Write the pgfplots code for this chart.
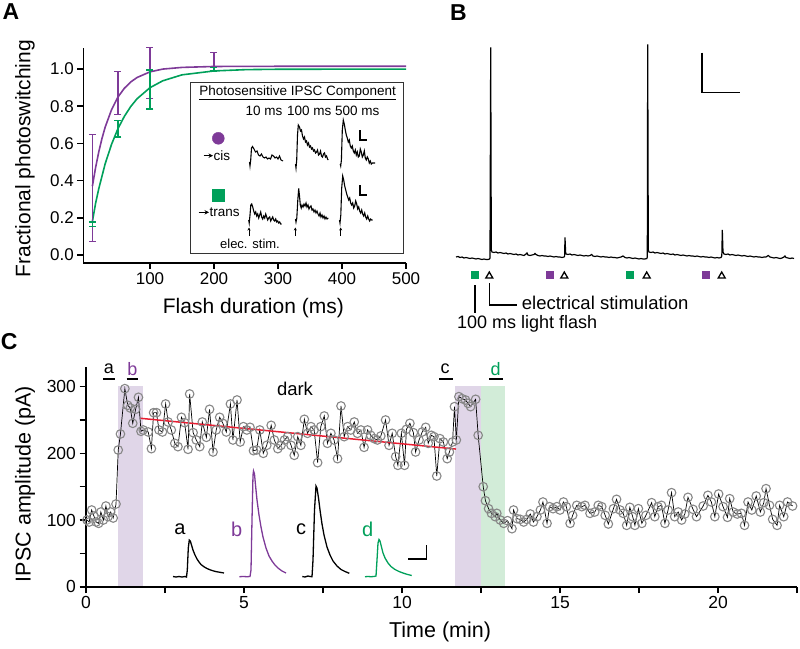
\documentclass[border=0pt]{standalone}
\usepackage{fontspec}
\setmainfont{Liberation Sans}
\usepackage{pgfplots}
\pgfplotsset{compat=1.18}
\usetikzlibrary{arrows.meta}
\definecolor{cP}{RGB}{126,58,152}
\definecolor{cG}{RGB}{0,160,90}
\definecolor{shP}{RGB}{224,214,232}
\definecolor{shG}{RGB}{210,236,216}
\definecolor{cR}{RGB}{232,30,50}
\definecolor{mk}{RGB}{135,135,135}
\begin{document}
\begin{tikzpicture}[x=1pt,y=1pt]
\path[use as bounding box] (0,0) rectangle (800,648);
% ---------------- Panel A ----------------
\begin{axis}[
 at={(83.3pt,385pt)}, anchor=south west, scale only axis, width=322.7pt, height=215.3pt,
 xmin=-4.2, xmax=500, ymin=-0.043, ymax=1.115,
 axis x line*=bottom, axis y line*=left, axis line style={-, line width=1.6pt},
 tick align=outside, major tick length=6pt, tick style={line width=1.6pt, black},
 xtick={100,200,300,400,500}, ytick={0,0.2,0.4,0.6,0.8,1.0},
 yticklabel style={/pgf/number format/fixed, /pgf/number format/fixed zerofill, /pgf/number format/precision=1},
 /pgf/number format/assume math mode=true,
 tick label style={font=\fontsize{17}{20}\selectfont},
 xlabel={Flash duration (ms)}, ylabel={Fractional photoswitching},
 label style={font=\fontsize{21}{25}\selectfont},
 xlabel style={at={(rel axis cs:0.527,-0.209)}, anchor=center},
 ylabel style={at={(rel axis cs:-0.181,0.485)}, anchor=center},
 clip=false,
]
\addplot[cP, line width=1.6pt] coordinates {(10,0.37) (15,0.470) (20,0.555) (25,0.627) (30,0.688) (40,0.782) (50,0.850) (60,0.897) (70,0.931) (80,0.955) (100,0.985) (120,1.000) (150,1.009) (200,1.014) (300,1.015) (500,1.015)};
\addplot[cG, line width=1.6pt] coordinates {(10,0.18) (15,0.278) (20,0.357) (30,0.491) (40,0.596) (50,0.680) (60,0.746) (70,0.799) (80,0.841) (100,0.900) (120,0.937) (150,0.969) (200,0.990) (250,0.997) (300,0.999) (500,1.0)};
\addplot[cP, draw=none, mark=none, error bars/.cd, y dir=both, y explicit, error bar style={draw=cP, line width=1.3pt}, error mark options={draw=cP, rotate=90, line width=1.3pt, mark size=3.5pt}] coordinates {(10,0.36) +- (0,0.287) (50,0.87) +- (0,0.116) (100,0.98) +- (0,0.137) (200,1.04) +- (0,0.048)};
\addplot[cG, draw=none, mark=none, error bars/.cd, y dir=both, y explicit, error bar style={draw=cG, line width=1.3pt}, error mark options={draw=cG, rotate=90, line width=1.3pt, mark size=3.5pt}] coordinates {(10,0.165) +- (0,0.012) (50,0.68) +- (0,0.045) (100,0.89) +- (0,0.105) (200,1.0) +- (0,0.01)};
\end{axis}
% ---------------- Panel C ----------------
\begin{axis}[
 at={(86pt,61.3pt)}, anchor=south west, scale only axis, width=711pt, height=219.4pt,
 xmin=0, xmax=22.5, ymin=0, ymax=329,
 axis x line*=bottom, axis y line*=left, axis line style={-, line width=1.6pt},
 tick align=outside, major tick length=6.5pt, minor tick length=6.5pt, tick style={line width=1.6pt, black},
 xtick={0,5,10,15,20}, minor xtick={2.5,7.5,12.5,17.5,22.5},
 ytick={0,100,200,300}, minor ytick={50,150,250},
 /pgf/number format/assume math mode=true,
 tick label style={font=\fontsize{17.5}{20}\selectfont},
 xlabel={Time (min)}, ylabel={IPSC amplitude (pA)},
 label style={font=\fontsize{21.5}{25}\selectfont},
 xlabel style={at={(rel axis cs:0.498,-0.206)}, anchor=center},
 ylabel style={at={(rel axis cs:-0.0858,0.468)}, anchor=center},
 clip=false, axis on top,
]
\addplot[draw=none, fill=shP] coordinates {(1.02,301) (1.79,301)} \closedcycle;
\addplot[draw=none, fill=shP] coordinates {(11.67,301) (12.51,301)} \closedcycle;
\addplot[draw=none, fill=shG] coordinates {(12.51,301) (13.25,301)} \closedcycle;
\addplot[black, line width=0.7pt, mark=o, mark size=4.3pt, mark options={draw=mk, line width=1.1pt}] coordinates {
(0.03,100) (0.1,97) (0.18,115) (0.25,106) (0.32,97) (0.4,95) (0.47,112) (0.55,100) (0.63,121) (0.7,105) (0.78,112) (0.86,103) (0.95,124)
(1.02,205) (1.09,229) (1.23,297) (1.32,272) (1.4,268) (1.48,245) (1.57,266) (1.66,284) (1.74,233)
(1.81,235) (1.97,232) (2.07,207) (2.14,261) (2.23,261) (2.31,235) (2.42,232) (2.52,274) (2.6,247) (2.7,235) (2.81,215) (2.91,210) (3.02,254) (3.12,246) (3.23,206) (3.28,289) (3.39,231) (3.49,220) (3.6,210) (3.68,247) (3.81,224) (3.91,266) (4.02,202) (4.12,235) (4.23,254) (4.33,245) (4.44,232) (4.57,274) (4.65,220) (4.78,280) (4.88,217) (4.98,240) (5.09,235) (5.19,239) (5.3,204) (5.4,205) (5.5,235) (5.61,200) (5.72,212) (5.86,242) (5.96,220) (6.07,207) (6.17,212) (6.28,220) (6.38,225) (6.49,212) (6.59,197) (6.7,225) (6.8,212) (6.91,251) (7.01,230) (7.12,240) (7.22,235) (7.33,186) (7.43,240) (7.54,256) (7.64,215) (7.75,230) (7.85,220) (7.96,192) (8.07,271) (8.17,225) (8.28,240) (8.38,235) (8.49,247) (8.59,230) (8.7,235) (8.8,209) (8.91,235) (9.01,227) (9.12,222) (9.22,220) (9.33,226) (9.48,250) (9.59,212) (9.69,230) (9.8,195) (9.87,182) (9.98,230) (10.08,182) (10.14,236) (10.25,245) (10.36,231) (10.43,202) (10.54,220) (10.64,232) (10.75,239) (10.83,215) (10.93,227) (11.01,225) (11.1,166) (11.2,222) (11.31,217) (11.43,192) (11.5,202) (11.6,217)
(11.66,270) (11.72,220) (11.8,285) (11.9,282) (12.01,280) (12.09,275) (12.17,270) (12.33,281) (12.41,227) (12.57,150) (12.64,129) (12.74,117) (12.83,110) (12.95,105) (13.0,110) (13.11,100) (13.22,95) (13.34,99) (13.48,87) (13.53,115) (13.64,102) (13.74,101) (13.85,97) (13.95,101) (14.06,109) (14.16,97) (14.27,105) (14.38,115) (14.46,127) (14.59,95) (14.67,120) (14.78,117) (14.9,120) (15.0,115) (15.11,127) (15.2,120) (15.32,95) (15.4,107) (15.53,122) (15.69,120) (15.79,122) (15.95,110) (16.1,112) (16.21,122) (16.32,120) (16.43,107) (16.53,94) (16.69,117) (16.79,131) (16.9,115) (17.0,110) (17.11,92) (17.21,119) (17.3,105) (17.37,92) (17.48,117) (17.59,95) (17.72,107) (17.9,126) (18.0,105) (18.1,120) (18.21,122) (18.32,95) (18.42,115) (18.53,141) (18.63,105) (18.74,112) (18.85,100) (18.95,109) (19.05,134) (19.21,116) (19.32,105) (19.53,121) (19.68,137) (19.79,127) (19.9,105) (20.02,139) (20.16,120) (20.3,104) (20.37,132) (20.48,112) (20.61,109) (20.74,110) (20.84,92) (20.95,127) (21.07,115) (21.21,136) (21.34,112) (21.45,126) (21.52,147) (21.63,122) (21.73,101) (21.87,92) (21.95,122) (22.08,105) (22.2,127) (22.36,121)};
\addplot[cR, line width=1.5pt] coordinates {(1.73,252.5) (11.71,206.4)};
\end{axis}
% ---------------- Overlay in pixel coordinates ----------------
\begin{axis}[
 at={(0pt,0pt)}, anchor=south west, scale only axis, width=800pt, height=648pt,
 xmin=0, xmax=800, ymin=0, ymax=648, y dir=reverse, hide axis, clip=false,
]
% panel letters
\node[font=\fontsize{23}{26}\selectfont\bfseries] at (axis cs:11,12) {A};
\node[font=\fontsize{23}{26}\selectfont\bfseries] at (axis cs:458.3,12.5) {B};
\node[font=\fontsize{23}{26}\selectfont\bfseries] at (axis cs:9.2,341.7) {C};
% inset box of A
\draw[line width=1.5pt, draw=black!80, fill=white] (axis cs:190.7,82.7) rectangle (axis cs:403.3,253.3);
\node[font=\fontsize{13.5}{16}\selectfont] at (axis cs:297.7,92.7) {\underline{Photosensitive IPSC Component}};
\node[font=\fontsize{13.5}{16}\selectfont] at (axis cs:264,110.7) {10 ms};
\node[font=\fontsize{13.5}{16}\selectfont] at (axis cs:309.3,110.7) {100 ms};
\node[font=\fontsize{13.5}{16}\selectfont] at (axis cs:357.3,110.7) {500 ms};
\addplot[only marks, mark=*, mark size=6pt, cP] coordinates {(218.3,138.3)};
\addplot[only marks, mark=square*, mark size=5.8pt, cG] coordinates {(218.3,195)};
\draw[line width=1.3pt, -{Stealth[length=4.5pt,width=4.5pt]}] (axis cs:203.5,155.7) -- (axis cs:213,155.7);
\node[font=\fontsize{13.5}{16}\selectfont, anchor=west, inner sep=0pt] at (axis cs:213.5,155.2) {cis};
\draw[line width=1.3pt, -{Stealth[length=4.5pt,width=4.5pt]}] (axis cs:198.5,212.3) -- (axis cs:209,212.3);
\node[font=\fontsize{13.5}{16}\selectfont, anchor=west, inner sep=0pt] at (axis cs:209.5,211.8) {trans};
\node[font=\fontsize{13}{16}\selectfont] at (axis cs:250,244) {elec. stim.};
\draw[line width=0.9pt, -{Stealth[length=3pt,width=3pt]}] (axis cs:249,236) -- (axis cs:249,227.5);
\draw[line width=0.9pt, -{Stealth[length=3pt,width=3pt]}] (axis cs:295.3,236) -- (axis cs:295.3,227.5);
\draw[line width=0.9pt, -{Stealth[length=3pt,width=3pt]}] (axis cs:340.7,236) -- (axis cs:340.7,227.5);
% scale bars in inset
\draw[line width=1.1pt] (axis cs:360,130) -- (axis cs:360,140) -- (axis cs:366.7,140);
\draw[line width=1.1pt] (axis cs:360,185) -- (axis cs:360,195) -- (axis cs:366.7,195);
% inset traces (cis)
\addplot[black, line width=1.1pt] coordinates {(249.5,162) (250,166) (250.7,160) (251.5,148) (252.5,146.5) (254,149) (255.5,152) (257,151) (258.5,155) (260,156) (261.5,154) (263,157) (264.5,158) (266,157) (267.5,159) (269,158) (270.5,159) (272,155) (273.5,156) (275,158) (276.5,157) (278,159) (279.5,156) (281,160) (283,161)};
\addplot[black, line width=1.1pt] coordinates {(295.5,164) (296,168) (296.7,160) (297.5,135) (298.3,125) (299.5,127) (300.5,131) (301.5,130) (302.5,136) (303.5,139) (304.5,137) (305.5,142) (306.5,141) (307.5,145) (308.5,143) (309.5,147) (310.5,146) (311.5,149) (312.5,148) (313.5,151) (314.5,150) (315.5,153) (316.5,152) (317.5,150) (318.5,155) (319.5,154) (320.5,151) (321.5,156) (322.5,157) (323.5,154) (324.5,153) (325.5,157) (326.5,156) (327.5,159) (328.3,160)};
\addplot[black, line width=1.1pt] coordinates {(340.2,164) (340.7,166) (341.4,160) (342.3,130) (343.3,120) (344.3,124) (345.3,130) (346.3,135) (347.3,138) (348.3,142) (349.3,140) (350.3,146) (351.3,148) (352.3,146) (353.3,151) (354.3,153) (355.3,150) (356.3,155) (357.3,152) (358.3,157) (359.3,156) (360.3,149) (361.3,152) (362.3,157) (363.3,155) (364.3,151) (365.3,158) (366.3,160) (367.3,157) (368.3,159) (369.3,163) (370.3,161) (371.3,164) (372.3,163) (373.5,163) (375,163)};
% inset traces (trans)
\addplot[black, line width=1.1pt] coordinates {(248.7,220) (249.2,223) (250,215) (250.8,205) (251.7,204) (252.7,207) (253.7,211) (254.7,214) (255.7,212) (256.7,216) (257.7,214) (258.7,218) (259.7,215) (260.7,212) (261.7,217) (262.7,219) (263.7,216) (264.7,218) (265.7,214) (266.7,217) (267.7,220) (268.7,218) (269.7,217) (270.7,221) (271.7,219) (272.7,217) (273.7,220) (274.7,221) (275.7,219) (276.7,222) (277.7,221) (278.7,223) (279.7,222) (280.7,224) (281.7,224)};
\addplot[black, line width=1.1pt] coordinates {(295.5,219) (296,222) (296.8,218) (297.8,200) (298.7,188.5) (299.5,196) (300.3,205) (301.2,208) (302,205) (303,207) (304,204) (305,206) (306,203) (307,207) (308,205) (309,209) (310,207) (311,206) (312,210) (313,209) (314,212) (315,210) (316,213) (317,211) (318,214) (319,216) (320,213) (321,217) (322,215) (323,218) (324,216) (325,219) (326,217) (327,219) (328.3,218)};
\addplot[black, line width=1.1pt] coordinates {(339.5,220) (340,223) (340.8,215) (341.7,188) (342.7,176) (343.7,180) (344.7,186) (345.7,190) (346.7,194) (347.7,197) (348.7,200) (349.7,198) (350.7,203) (351.7,205) (352.7,203) (353.7,208) (354.7,206) (355.7,201) (356.7,204) (357.7,209) (358.7,207) (359.7,211) (360.7,213) (361.7,210) (362.7,214) (363.7,216) (364.7,213) (365.7,217) (366.7,219) (367.7,216) (368.7,219) (369.7,221) (370.7,219) (371.7,220) (372.7,220)};
% ---------------- Panel B ----------------
\addplot[black, line width=1.2pt] coordinates {(456,257) (458,256.5) (460,257.5) (462,257) (464,258) (466,257.5) (468,258) (470,258.5) (472,258) (474,258.5) (476,259) (478,258.5) (480,259) (482,259.5) (484,259) (486,259.5) (488,259.5) (489.5,259) (490,258) (490.7,47.3) (491.3,250) (492,252) (494,252.5) (496,252) (498,253) (500,252.5) (502,253) (504,253.5) (506,253) (508,254) (510,253.5) (512,254) (514,254.5) (516,254) (518,255) (520,254.5) (522,255) (524,255.5) (526,254) (527,253) (528,255) (530,255.5) (532,255) (534,254.5) (535,253.5) (536,254.5) (538,255.5) (540,256) (542,255.5) (544,256) (546,256) (548,256.5) (550,256) (552,256.5) (554,257) (556,256.5) (558,257) (560,257) (562,257.5) (564,257) (564.6,256) (565,237.3) (565.6,252) (566,254) (568,254.5) (570,254) (572,255) (574,254.5) (576,255) (578,255.5) (580,255) (582,255.5) (584,256) (586,255.5) (588,256) (590,255.5) (591.7,254.5) (593,256) (595,256.5) (597,256) (599,256.5) (601,257) (603,256.5) (605,257) (607,257) (609,257.5) (611,257) (613,257.5) (615,257.5) (617,258) (619,257.5) (621,257) (623,256) (625,257.5) (627,258) (629,257.5) (631,258) (633,258.5) (635,258) (637,258.5) (639,259) (641,258.5) (643,259) (645,259) (646.8,258.5) (647.3,257) (647.7,44.3) (648.3,250) (649,252) (651,252.5) (653,252) (655,253) (657,252.5) (659,253) (661,253.5) (663,253) (665,254) (667,253.5) (669,254) (671,254.5) (673,254) (675,255) (677,254.5) (679,255) (681,255.5) (683,255) (685,255.5) (687,256) (689,255.5) (691,256) (693,256) (695,256.5) (697,256) (699,256.5) (701,257) (703,256.5) (705,257) (707,257) (709,257.5) (711,257) (713,257.5) (715,258) (717,257.5) (719,258) (721,257.5) (721.8,256) (722.3,230) (723,252) (724,254) (726,254.5) (728,254) (730,255) (732,254.5) (734,255) (736,255.5) (738,255) (740,255.5) (742,256) (744,255.5) (746,256) (748,256.5) (750,256) (752,256.5) (754,257) (756,256.5) (758,257) (760,257) (762,257.5) (764,257) (766,257) (768.3,255.5) (770,257) (772,257.5) (774,258) (776,257.5) (778,258) (780,258.5) (782,258) (784,257) (785,256) (786,257.5) (788,258) (790,258.5) (792,258) (794,258.5)};
\draw[line width=1.4pt] (axis cs:702,52.7) -- (axis cs:702,92.7) -- (axis cs:740,92.7);
\addplot[only marks, mark=square*, mark size=3.5pt, cG] coordinates {(475,275) (630,275)};
\addplot[only marks, mark=square*, mark size=3.5pt, cP] coordinates {(549.3,275) (705.7,275)};
\addplot[only marks, mark=triangle, mark size=4pt, black, mark options={line width=1.3pt}] coordinates {(489.3,276) (564.3,276) (646.7,276) (721.7,276)};
\draw[line width=1.2pt] (axis cs:475,285) -- (axis cs:475,313.3);
\draw[line width=1.2pt] (axis cs:489.3,283.3) -- (axis cs:489.3,305) -- (axis cs:516.7,305);
\node[font=\fontsize{18.5}{22}\selectfont, anchor=west, inner sep=0pt] at (axis cs:521.7,302.5) {electrical stimulation};
\node[font=\fontsize{18}{22}\selectfont, anchor=west, inner sep=0pt] at (axis cs:457,324) {100 ms light flash};
% ---------------- Panel C annotations ----------------
\node[font=\fontsize{18}{21}\selectfont] at (axis cs:109,369) {a};
\draw[line width=1.6pt] (axis cs:103,379) -- (axis cs:115,379);
\node[font=\fontsize{18}{21}\selectfont, text=cP] at (axis cs:132.3,369) {b};
\draw[line width=1.6pt] (axis cs:126.7,379) -- (axis cs:138.3,379);
\node[font=\fontsize{18}{21}\selectfont] at (axis cs:445,369) {c};
\draw[line width=1.6pt] (axis cs:439.3,379) -- (axis cs:452.7,379);
\node[font=\fontsize{18}{21}\selectfont, text=cG] at (axis cs:495.7,369) {d};
\draw[line width=1.6pt] (axis cs:489.3,379) -- (axis cs:502.7,379);
\node[font=\fontsize{18.5}{22}\selectfont] at (axis cs:295,389) {dark};
\node[font=\fontsize{20}{23}\selectfont] at (axis cs:180,529) {a};
\node[font=\fontsize{20}{23}\selectfont, text=cP] at (axis cs:236.7,529) {b};
\node[font=\fontsize{20}{23}\selectfont] at (axis cs:301,529) {c};
\node[font=\fontsize{20}{23}\selectfont, text=cG] at (axis cs:367.7,529) {d};
\addplot[black, line width=1.3pt] coordinates {(173,576.5) (176,577) (179,576.5) (182,577) (185,576.5) (186.5,577) (187.3,570) (188.3,548) (189.3,540) (190.3,541) (191.5,545) (193,550) (195,555) (197,559) (199,562) (201,564.5) (204,566.8) (207,568.5) (210,569.8) (213,570.8) (216,571.6) (220,572.3) (224,573)};
\addplot[cP, line width=1.3pt] coordinates {(239.3,576.7) (243,576.5) (247,576.7) (250,576.5) (251,570) (252,520) (253,475) (253.5,471) (254.5,474) (255.5,485) (257,500) (259,515) (261,527) (263,537) (266,548) (269,556) (272,561) (275,565) (278,568) (282,571) (286,573)};
\addplot[black, line width=1.3pt] coordinates {(302.3,576.5) (305,577) (308,576) (310,576.5) (312,576.7) (313,560) (314.5,510) (316,486) (317,488) (318.5,498) (320,510) (322,524) (324,535) (327,547) (330,555) (333,561) (337,566) (341,569.5) (345,571.5) (349.3,573.3)};
\addplot[cG, line width=1.3pt] coordinates {(365,576.7) (368,576.5) (371,576.7) (374,576.5) (376,576) (377,560) (378,543) (379,539.5) (380,541) (381.5,547) (383,553) (385,558) (388,563) (391,566.5) (395,569.5) (399,571.5) (403,573) (407,574.3) (411.7,575.5)};
\draw[line width=1.5pt] (axis cs:408.3,559) -- (axis cs:426.7,559) -- (axis cs:426.7,545);
\end{axis}
\end{tikzpicture}
\end{document}
